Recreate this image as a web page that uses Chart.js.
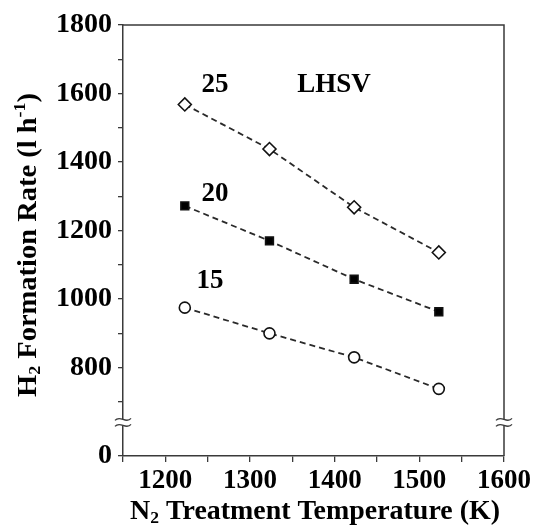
<!DOCTYPE html>
<html>
<head>
<meta charset="utf-8">
<script src="https://cdn.jsdelivr.net/npm/chart.js@4.4.1/dist/chart.umd.min.js"></script>
<style>
  html, body { margin: 0; padding: 0; background: #fff; }
  #wrap { width: 534px; height: 529px; }
</style>
</head>
<body>
<div id="wrap"><canvas id="chart"></canvas></div>
<script>
// N2 treatment temperature (K)
const temps = [1223, 1323, 1423, 1523];
// H2 formation rate for each LHSV
const lhsv25 = [1568, 1438, 1268, 1136];
const lhsv20 = [1272, 1170, 1058, 963];
const lhsv15 = [975, 900, 830, 738];
const seriesNames = ['25', '20', '15'];

// axis ticks (bottom y tick is the broken-axis "0")
const yBreakBottom = 542;
const yTicks = [542, 700, 800, 900, 1000, 1100, 1200, 1300, 1400, 1500, 1600, 1700, 1800];
const xTicks = [1150, 1200, 1250, 1300, 1350, 1400, 1450, 1500, 1550, 1600];

const FONT = "'Liberation Serif', 'Times New Roman', serif";
const AXIS = '#3a3a3a';

function pts(vals) {
  return temps.map((t, i) => ({ x: t, y: vals[i] }));
}

const common = {
  showLine: true,
  borderColor: '#2a2a2a',
  borderWidth: 1.8,
  borderDash: [6, 4],
  pointBorderColor: '#111',
  pointBorderWidth: 1.6
};

// draws mixed-size text pieces centred on cx, stretched to a given width
function drawParts(ctx, parts, cx, base, target) {
  let w = 0;
  parts.forEach(p => { ctx.font = p[1]; w += ctx.measureText(p[0]).width; });
  ctx.save();
  ctx.translate(cx, base);
  ctx.scale(target ? target / w : 1, 1);
  let x = -w / 2;
  parts.forEach(p => {
    ctx.font = p[1];
    ctx.fillText(p[0], x, p[2]);
    x += ctx.measureText(p[0]).width;
  });
  ctx.restore();
}

const decor = {
  id: 'decor',
  afterDraw(chart) {
    const ctx = chart.ctx;
    const a = chart.chartArea;
    const ys = chart.scales.y;
    ctx.save();

    // top and right frame
    ctx.strokeStyle = AXIS;
    ctx.lineWidth = 1.5;
    ctx.beginPath();
    ctx.moveTo(a.left, a.top);
    ctx.lineTo(a.right, a.top);
    ctx.lineTo(a.right, a.bottom);
    ctx.stroke();

    // axis break marks on both sides
    const by = ys.getPixelForValue(640);
    [a.left, a.right].forEach(bx => {
      ctx.fillStyle = '#fff';
      ctx.fillRect(bx - 2, by - 3, 4, 6);
      ctx.strokeStyle = AXIS;
      ctx.lineWidth = 1.3;
      [-3, 3].forEach(off => {
        ctx.beginPath();
        ctx.moveTo(bx - 8, by + off + 1);
        ctx.bezierCurveTo(bx - 3, by + off - 5, bx + 3, by + off + 5, bx + 8, by + off - 1);
        ctx.stroke();
      });
    });

    // series labels
    ctx.fillStyle = '#000';
    ctx.font = 'bold 27px ' + FONT;
    ctx.textAlign = 'center';
    ctx.textBaseline = 'middle';
    ctx.fillText(seriesNames[0], 215, 85);
    ctx.fillText('LHSV', 334, 85);
    ctx.fillText(seriesNames[1], 215, 194);
    ctx.fillText(seriesNames[2], 210, 281);

    // axis titles with sub/superscripts
    ctx.textBaseline = 'alphabetic';
    ctx.textAlign = 'left';
    const big = 'bold 27px ' + FONT;
    const small = 'bold 17px ' + FONT;
    drawParts(ctx, [['N', big, 0], ['2', small, 4], [' Treatment Temperature (K)', big, 0]],
      315, 519, 370);

    ctx.translate(36, 245);
    ctx.rotate(-Math.PI / 2);
    drawParts(ctx, [['H', big, 0], ['2', small, 4], [' Formation Rate (l h', big, 0],
      ['-1', small, -11], [')', big, 0]], 0, 0, 304);
    ctx.restore();
  }
};

new Chart(document.getElementById('chart'), {
  type: 'scatter',
  data: {
    datasets: [
      Object.assign({ label: seriesNames[0], data: pts(lhsv25), pointStyle: 'rectRot',
        pointRadius: 6.5, pointBackgroundColor: '#fff' }, common),
      Object.assign({ label: seriesNames[1], data: pts(lhsv20), pointStyle: 'rect',
        pointRadius: 5.5, pointBackgroundColor: '#000' }, common),
      Object.assign({ label: seriesNames[2], data: pts(lhsv15), pointStyle: 'circle',
        pointRadius: 5.5, pointBackgroundColor: '#fff' }, common)
    ]
  },
  options: {
    responsive: true,
    maintainAspectRatio: false,
    animation: false,
    layout: { padding: { top: 25, right: 28, left: 0, bottom: 0 } },
    plugins: { legend: { display: false }, tooltip: { enabled: false } },
    scales: {
      x: {
        type: 'linear',
        min: 1150,
        max: 1600,
        afterBuildTicks: s => { s.ticks = xTicks.map(v => ({ value: v })); },
        afterFit: s => { s.height = 73; },
        grid: { drawOnChartArea: false, tickLength: 6, tickColor: AXIS, lineWidth: 1.3 },
        border: { color: AXIS, width: 1.5 },
        ticks: {
          padding: 3,
          color: '#000',
          font: { family: FONT, size: 27, weight: 'bold' },
          maxRotation: 0,
          autoSkip: false,
          callback: v => (v % 100 === 0 ? v : '')
        }
      },
      y: {
        type: 'linear',
        min: yBreakBottom,
        max: 1800,
        afterBuildTicks: s => { s.ticks = yTicks.map(v => ({ value: v })); },
        afterFit: s => { s.width = 123; },
        grid: { drawOnChartArea: false, tickLength: 5, tickColor: AXIS, lineWidth: 1.3 },
        border: { color: AXIS, width: 1.5 },
        ticks: {
          padding: 6,
          color: '#000',
          font: { family: FONT, size: 28, weight: 'bold' },
          autoSkip: false,
          callback: v => (v === yBreakBottom ? '0' : (v % 200 === 0 ? v : ''))
        }
      }
    }
  },
  plugins: [decor]
});
</script>
</body>
</html>
